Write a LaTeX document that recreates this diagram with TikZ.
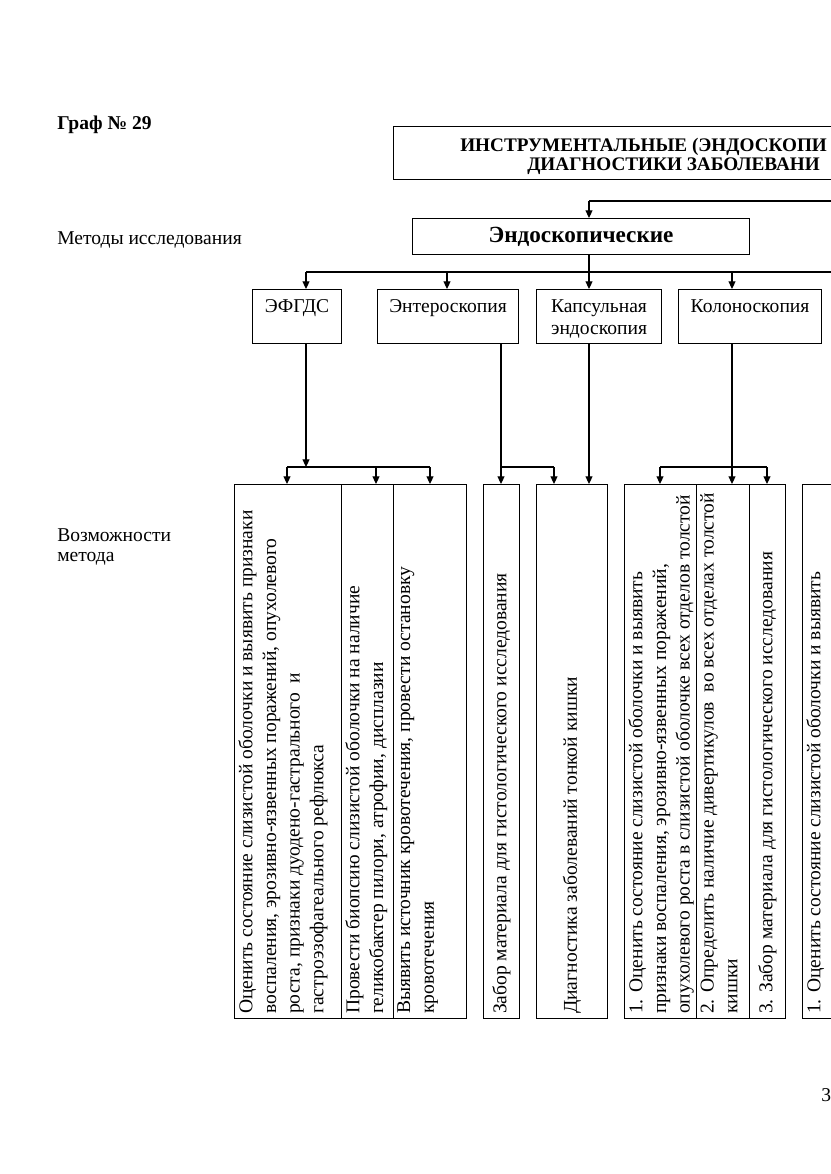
\documentclass[tikz,border=0pt]{standalone}
\usepackage{fontspec}
\setmainfont{Liberation Serif}
\usetikzlibrary{arrows.meta,calc}
\newcommand\pxu{0.7164pt}
\newcommand\fsN{\fontsize{14pt}{16.2pt}\selectfont}
\newcommand\fsV{\fontsize{14pt}{17pt}\selectfont}
\newcommand\fsB{\fontsize{16.6pt}{19pt}\selectfont\bfseries}
\newcommand\fsT{\fontsize{14pt}{13.5pt}\selectfont\bfseries}
\newcommand\fsTT{\fontsize{13.75pt}{13.5pt}\selectfont\bfseries}
\begin{document}
\begin{tikzpicture}[x=0.7164pt,y=-0.7164pt,
  box/.style={draw,line width=0.8pt,inner sep=0,anchor=north west},
  lbl/.style={font=\fsN,inner sep=0,anchor=base,align=center},
  vtxt/.style={rotate=90,anchor=north west,align=left,font=\fsV,inner sep=0},
  vtxtc/.style={rotate=90,anchor=west,align=left,font=\fsV,inner sep=0},
  conn/.style={line width=0.8pt},
  arr/.style={conn,-{Triangle[length=5.5pt,width=5pt]}},
  side/.style={font=\fsN,anchor=west,align=left,inner sep=0}]
\useasboundingbox (0,0) rectangle (831,1174);
\clip (0,0) rectangle (831,1174);

% left captions
\node[side,font=\fsT] (graf) at (57,125) {Граф № 29};
\node[side] (metody) at (57,240) {Методы исследования};
\node[side,font=\fontsize{14pt}{13.8pt}\selectfont] (vozm) at (57,547) {Возможности\\метода};
\node[side] (pg) at (821,1095) {3};

% title
\node[box,minimum width=460*\pxu,minimum height=53*\pxu] (ttl) at (393,126) {};
\node[font=\fsTT,anchor=base west,inner sep=0] (ttl1) at (460,152) {ИНСТРУМЕНТАЛЬНЫЕ (ЭНДОСКОПИ};
\node[font=\fsTT,anchor=base west,inner sep=0] (ttl2) at (527,170) {ДИАГНОСТИКИ ЗАБОЛЕВАНИ};

% endoscopic
\node[box,minimum width=337*\pxu,minimum height=36*\pxu,font=\fsB] (endo) at (412,218) {Эндоскопические};

% methods
\node[box,minimum width=89*\pxu,minimum height=54*\pxu] (efgds) at (252,289) {};
\node[box,minimum width=141*\pxu,minimum height=54*\pxu] (entero) at (377,289) {};
\node[box,minimum width=125*\pxu,minimum height=54*\pxu] (kaps) at (536,289) {};
\node[box,minimum width=143*\pxu,minimum height=54*\pxu] (kolon) at (678,289) {};
\coordinate (r1) at (0,312);
\coordinate (r2) at (0,334);
\node[lbl] (tefgds) at (efgds.north |- r1) {ЭФГДС};
\node[lbl] (tentero) at (entero.north |- r1) {Энтероскопия};
\node[lbl] (tkaps1) at (kaps.north |- r1) {Капсульная};
\node[lbl] (tkaps2) at (kaps.north |- r2) {эндоскопия};
\node[lbl] (tkolon) at (kolon.north |- r1) {Колоноскопия};

% possibilities boxes
\node[box,minimum width=107*\pxu,minimum height=534*\pxu] (bA) at (234,484) {};
\node[box,minimum width=52*\pxu,minimum height=534*\pxu] (bB) at (341,484) {};
\node[box,minimum width=73*\pxu,minimum height=534*\pxu] (bC) at (393,484) {};
\node[box,minimum width=36*\pxu,minimum height=534*\pxu] (zab) at (483,484) {};
\node[box,minimum width=71*\pxu,minimum height=534*\pxu] (diag) at (536,484) {};
\node[box,minimum width=72*\pxu,minimum height=534*\pxu] (kA) at (624,484) {};
\node[box,minimum width=53*\pxu,minimum height=534*\pxu] (kB) at (696,484) {};
\node[box,minimum width=36*\pxu,minimum height=534*\pxu] (kC) at (749,484) {};
\node[box,minimum width=60*\pxu,minimum height=534*\pxu] (rA) at (802,484) {};

\node[vtxt] (tA) at ($(bA.south west)+(4,-5)$) {Оценить состояние слизистой оболочки и выявить признаки\\воспаления, эрозивно-язвенных поражений, опухолевого\\роста, признаки дуодено-гастрального\ \ и\\гастроэзофагеального рефлюкса};
\node[vtxt] (tB) at ($(bB.south west)+(4,-5)$) {Провести биопсию слизистой оболочки на наличие\\геликобактер пилори, атрофии, дисплазии};
\node[vtxt] (tC) at ($(bC.south west)+(4,-5)$) {Выявить источник кровотечения, провести остановку\\кровотечения};
\node[vtxtc] (tzab) at ($(zab.south)+(0,-5)$) {Забор материала для гистологического исследования};
\node[vtxtc] (tdiag) at ($(diag.south)+(0,-5)$) {Диагностика заболеваний тонкой кишки};
\node[vtxt] (tkA) at ($(kA.south west)+(4,-5)$) {1. Оценить состояние слизистой оболочки и выявить\\признаки воспаления, эрозивно-язвенных поражений,\\опухолевого роста в слизистой оболочке всех отделов толстой};
\node[vtxt] (tkB) at ($(kB.south west)+(4,-5)$) {2. Определить наличие дивертикулов\ \ во всех отделах толстой\\кишки};
\node[vtxtc] (tkC) at ($(kC.south)+(0,-5)$) {3. Забор материала для гистологического исследования};
\node[vtxt] (trA) at ($(rA.south west)+(4,-5)$) {1. Оценить состояние слизистой оболочки и выявить};

% connectors top
\coordinate (tr) at (831,201);
\coordinate (j0) at (589,201);
\coordinate (b0) at (589,272);
\coordinate (bE) at (306,272);
\coordinate (bN) at (447,272);
\coordinate (bK) at (732,272);
\coordinate (busR) at (831,272);
\draw[conn] (tr) -- (j0);
\draw[arr] (j0) -- (j0 |- endo.north);
\draw[conn] (endo.south -| b0) -- (b0);
\draw[conn] (bE) -- (busR);
\draw[arr] (bE) -- (bE |- efgds.north);
\draw[arr] (bN) -- (bN |- entero.north);
\draw[arr] (b0) -- (b0 |- kaps.north);
\draw[arr] (bK) -- (bK |- kolon.north);

% connectors lower
\coordinate (e1) at (306,467);
\coordinate (e0) at (287,467);
\coordinate (e2) at (376,467);
\coordinate (e3) at (430,467);
\draw[arr] (bE |- efgds.south) -- (e1);
\draw[conn] (e0) -- (e3);
\draw[arr] (e0) -- (e0 |- bA.north);
\draw[arr] (e2) -- (e2 |- bB.north);
\draw[arr] (e3) -- (e3 |- bC.north);

\coordinate (n1) at (501,467);
\coordinate (n2) at (554,467);
\draw[arr] (n1 |- entero.south) -- (n1 |- zab.north);
\draw[conn] (n1) -- (n2);
\draw[arr] (n2) -- (n2 |- diag.north);
\draw[arr] (b0 |- kaps.south) -- (b0 |- diag.north);

\coordinate (k1) at (660,467);
\coordinate (k3) at (767,467);
\draw[arr] (bK |- kolon.south) -- (bK |- kB.north);
\draw[conn] (k1) -- (k3);
\draw[arr] (k1) -- (k1 |- kA.north);
\draw[arr] (k3) -- (k3 |- kC.north);
\end{tikzpicture}
\end{document}
